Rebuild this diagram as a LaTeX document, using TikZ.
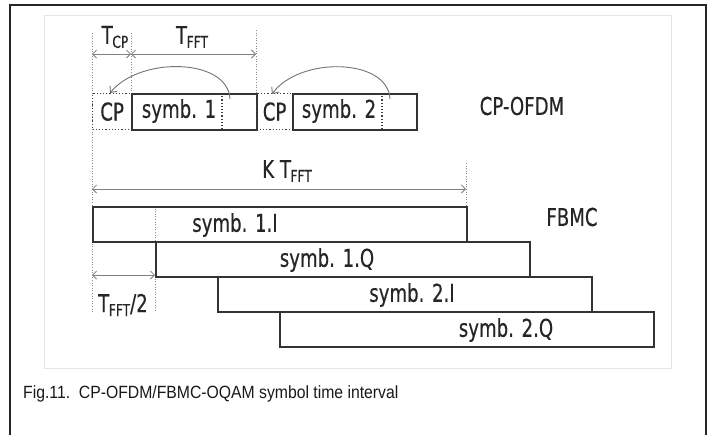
\documentclass[tikz,border=0pt]{standalone}
\usepackage{fontspec}
\setmainfont[FakeStretch=0.89]{Liberation Sans}
\newfontfamily\df[FakeStretch=0.74,FakeBold=0.4]{DejaVu Sans}
\usetikzlibrary{arrows.meta}
\newcommand{\Tsub}[1]{T\kern-0.02em\raisebox{-0.3ex}{\fontsize{16.5}{16.5}\selectfont #1}}
\begin{document}
\begin{tikzpicture}[x=1pt,y=-1pt,
  lbl/.style={font=\df\fontsize{24.5}{24.5}\selectfont, text=black!85, inner sep=0pt},
  sbox/.style={draw=black!80, line width=1.5pt, inner sep=0pt, anchor=north west, minimum height=36pt},
  fbox/.style={draw=black!80, line width=1.5pt, inner sep=0pt, anchor=north west, minimum height=35pt, minimum width=374pt},
  dbox/.style={draw=black!75, dotted, line width=1.2pt, inner sep=0pt, anchor=north west, minimum height=36pt, text=black!85, font=\df\fontsize{24.5}{24.5}\selectfont},
  inner/.style={draw=black!75, dotted, line width=1.2pt},
  guide/.style={draw=black!45, dotted, line width=0.6pt},
  dim/.style={draw=black!50, line width=0.8pt, {Straight Barb[length=4pt,width=8pt]}-{Straight Barb[length=4pt,width=8pt]}},
  back/.style={draw=black!55, line width=0.9pt, -{Straight Barb[length=5pt,width=9pt]}}]
\useasboundingbox (0,0) rectangle (712,434);
\fill[white] (0,0) rectangle (712,434);
\draw[line width=2pt, black!85] (10,440) -- (10,5) -- (706,5) -- (706,440);
\draw[black!10, line width=0.6pt] (44,15) rectangle (671,368);

% guide lines
\coordinate (g1t) at (92,33);  \coordinate (g1b) at (92,312);
\coordinate (g2t) at (131,33); \coordinate (g2b) at (131,93);
\coordinate (g3t) at (256,30); \coordinate (g3b) at (256,93);
\coordinate (g4t) at (466,163); \coordinate (g4b) at (466,206);
\coordinate (g5t) at (155,206); \coordinate (g5b) at (155,312);
\draw[guide] (g1t) -- (g1b);
\draw[guide] (g2t) -- (g2b);
\draw[guide] (g3t) -- (g3b);
\draw[guide] (g4t) -- (g4b);
\draw[guide] (g5t) -- (g5b);

% CP-OFDM
\node[dbox, minimum width=39pt] (cp1) at (92,93) {CP};
\node[sbox, minimum width=125pt] (s1) at (131,93) {};
\draw[inner] (222,93) coordinate (i1t) -- (222,129) coordinate (i1b);
\node[lbl] (s1l) at (179,111) {symb. 1};
\node[dbox, minimum width=36pt] (cp2) at (256,93) {CP};
\node[sbox, minimum width=124pt] (s2) at (292,93) {};
\draw[inner] (382,93) coordinate (i2t) -- (382,129) coordinate (i2b);
\node[lbl] (s2l) at (339,111) {symb. 2};
\node[lbl] (ofdm) at (522,106) {CP-OFDM};

\coordinate (a1s) at (230,99); \coordinate (a1e) at (110,93);
\draw[back] (a1s) .. controls (228,58) and (140,56) .. (a1e);
\coordinate (a2s) at (390,99); \coordinate (a2e) at (272,94);
\draw[back] (a2s) .. controls (388,58) and (300,56) .. (a2e);

% dimensions top
\coordinate (d1a) at (92,54); \coordinate (d1b) at (131,54); \coordinate (d1c) at (256,54);
\draw[dim] (d1a) -- (d1b);
\draw[dim] (d1b) -- (d1c);
\node[lbl] (tcp) at (115,37) {\Tsub{CP}};
\node[lbl] (tfft) at (192,37) {\Tsub{FFT}};

% FBMC
\coordinate (d2a) at (92,189); \coordinate (d2b) at (466,189);
\draw[dim] (d2a) -- (d2b);
\node[lbl] (kt) at (287,171) {K \Tsub{FFT}};
\node[fbox] (f1) at (92,206) {};
\node[fbox] (f2) at (155,241) {};
\node[fbox] (f3) at (217,276) {};
\node[fbox] (f4) at (279,311) {};
\node[lbl] at (235,225) {symb. 1.I};
\node[lbl] at (327,260) {symb. 1.Q};
\node[lbl] at (412,295) {symb. 2.I};
\node[lbl] at (506,330) {symb. 2.Q};
\node[lbl] (fbmc) at (572,217) {FBMC};
\coordinate (d3a) at (92,275); \coordinate (d3b) at (155,275);
\draw[dim] (d3a) -- (d3b);
\node[lbl] (th) at (123,305) {\Tsub{FFT}/2};

% caption
\node[anchor=base west, inner sep=0pt, text=black!90, font=\fontsize{17.7}{17.7}\selectfont] (cap) at (23,398) {Fig.11.\ \ CP-OFDM/FBMC-OQAM symbol time interval};
\end{tikzpicture}
\end{document}
